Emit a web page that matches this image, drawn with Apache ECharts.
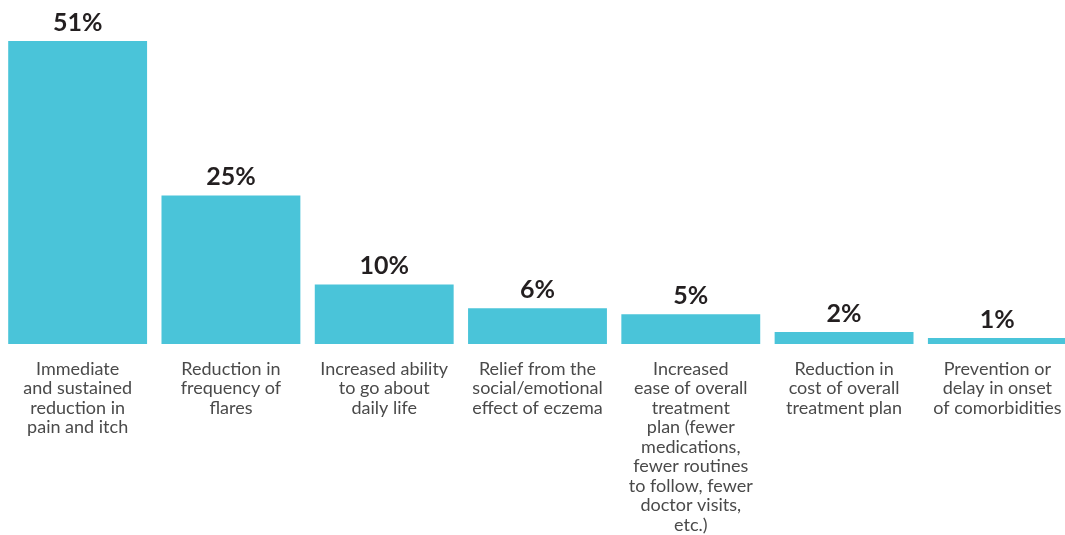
<!DOCTYPE html>
<html>
<head>
<meta charset="utf-8">
<script src="https://cdn.jsdelivr.net/npm/echarts@6/dist/echarts.min.js"></script>
<style>html,body{margin:0;padding:0;background:#fff;overflow:hidden;width:1065px;height:535px;}#c{width:1074px;height:535px;}</style>
</head>
<body>
<div id="c"></div>
<script>
const categories = [
  "Immediate\nand sustained\nreduction in\npain and itch",
  "Reduction in\nfrequency of\nflares",
  "Increased ability\nto go about\ndaily life",
  "Relief from the\nsocial/emotional\neffect of eczema",
  "Increased\nease of overall\ntreatment\nplan (fewer\nmedications,\nfewer routines\nto follow, fewer\ndoctor visits,\netc.)",
  "Reduction in\ncost of overall\ntreatment plan",
  "Prevention or\ndelay in onset\nof comorbidities"
];
const values = [51, 25, 10, 6, 5, 2, 1];

const chart = echarts.init(document.getElementById('c'));
chart.setOption({
  animation: false,
  grid: { left: 1, top: 0, right: 0, height: 344, containLabel: false },
  xAxis: {
    type: 'category',
    data: categories,
    axisLine: { show: false },
    axisTick: { show: false },
    axisLabel: {
      interval: 0,
      margin: 15,
      color: '#4a4a4a',
      fontFamily: 'Lato',
      fontSize: 18,
      lineHeight: 19.5,
      align: 'center'
    }
  },
  yAxis: {
    type: 'value',
    min: 0,
    max: 57.9,
    show: false,
    splitLine: { show: false }
  },
  series: [{
    type: 'bar',
    data: values,
    barCategoryGap: '9.4%',
    itemStyle: { color: '#4AC4D9' },
    label: {
      show: true,
      position: 'top',
      distance: 6,
      formatter: '{c}%',
      color: '#231f20',
      fontFamily: 'Lato',
      fontWeight: 'bold',
      fontSize: 25
    }
  }]
});
</script>
</body>
</html>
